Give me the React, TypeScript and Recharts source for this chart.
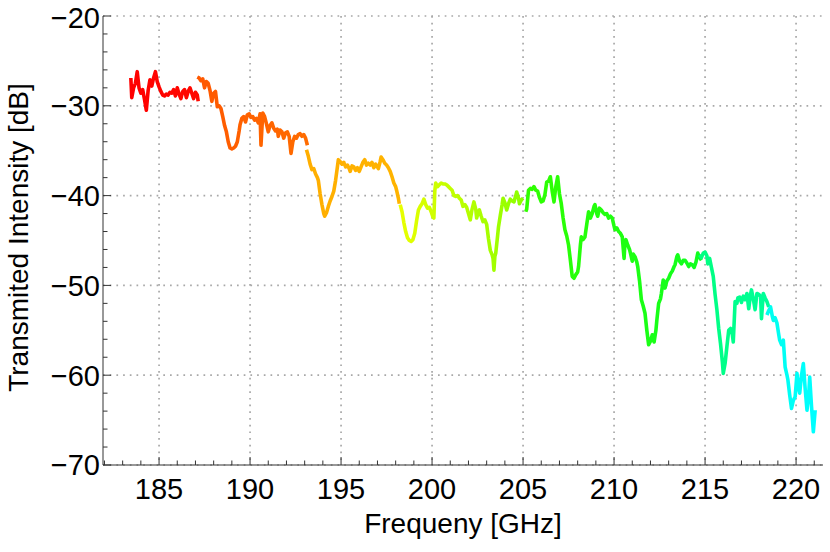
import React from 'react';
import { LineChart, Line, XAxis, YAxis, CartesianGrid } from 'recharts';

// ---- data: frequency [GHz] and transmitted intensity [dB], one pair of arrays per measured segment ----
const seg1Freq = [183.45, 183.5, 183.6, 183.7, 183.8, 183.9, 184.0, 184.1, 184.2, 184.3, 184.4, 184.5, 184.6, 184.7, 184.8, 184.9, 185.0, 185.1, 185.2, 185.3, 185.4, 185.5, 185.6, 185.7, 185.8, 185.9, 186.0, 186.1, 186.2, 186.3, 186.4, 186.5, 186.6, 186.7, 186.8, 186.9, 187.0, 187.1, 187.15];
const seg1Val = [-26.9, -29.1, -28.0, -27.5, -26.2, -28.0, -28.6, -28.2, -29.3, -30.5, -28.3, -27.1, -27.8, -26.9, -26.2, -27.3, -27.9, -28.4, -28.8, -28.9, -28.7, -28.8, -28.5, -28.6, -28.2, -28.9, -28.0, -28.7, -29.2, -28.4, -28.2, -29.1, -28.4, -28.0, -28.6, -29.2, -28.5, -28.8, -29.5];

const seg2Freq = [187.1, 187.2, 187.3, 187.4, 187.5, 187.6, 187.7, 187.8, 187.9, 188.0, 188.1, 188.2, 188.3, 188.4, 188.5, 188.6, 188.7, 188.8, 188.9, 189.0, 189.1, 189.2, 189.3, 189.4, 189.45, 189.55, 189.65, 189.75, 189.85, 189.95, 190.05, 190.15, 190.25, 190.35, 190.45, 190.55, 190.6, 190.7, 190.8, 190.9, 191.0, 191.1, 191.2, 191.3, 191.4, 191.5, 191.55, 191.65, 191.75, 191.85, 191.95, 192.05, 192.15, 192.25, 192.35, 192.45, 192.55, 192.65, 192.75, 192.85, 192.95, 193.05, 193.15];
const seg2Val = [-26.8, -26.9, -27.2, -27.0, -28.0, -27.3, -27.5, -28.3, -29.5, -28.6, -28.4, -30.1, -30.0, -30.3, -31.2, -32.2, -32.9, -34.0, -34.7, -34.8, -34.7, -34.5, -34.0, -32.8, -32.1, -31.4, -31.2, -31.8, -31.0, -30.9, -31.3, -31.2, -31.6, -31.4, -31.9, -30.9, -34.4, -30.8, -31.2, -32.0, -32.9, -32.2, -31.9, -32.5, -32.8, -32.6, -33.4, -32.7, -32.9, -33.6, -33.0, -32.9, -33.4, -35.3, -34.0, -33.4, -33.6, -33.2, -33.1, -33.4, -33.2, -33.6, -34.4];

const seg3Freq = [193.1, 193.2, 193.3, 193.4, 193.5, 193.6, 193.7, 193.75, 193.85, 193.95, 194.05, 194.1, 194.2, 194.3, 194.4, 194.5, 194.6, 194.7, 194.8, 194.85, 194.95, 195.05, 195.15, 195.25, 195.35, 195.45, 195.5, 195.6, 195.7, 195.8, 195.9, 196.0, 196.1, 196.2, 196.3, 196.4, 196.5, 196.6, 196.7, 196.8, 196.9, 197.05, 197.15, 197.2, 197.3, 197.4, 197.5, 197.6, 197.7, 197.8, 197.9, 198.0, 198.05, 198.15, 198.2];
const seg3Val = [-34.9, -35.6, -36.5, -37.1, -37.0, -37.6, -38.0, -38.3, -39.8, -41.0, -42.0, -42.3, -41.9, -41.2, -40.6, -40.1, -39.5, -38.3, -36.8, -36.0, -36.2, -36.5, -36.3, -36.8, -36.6, -37.0, -37.3, -36.7, -36.8, -37.2, -36.9, -37.3, -36.8, -36.3, -36.0, -36.6, -36.4, -36.6, -36.3, -36.9, -36.5, -37.0, -36.2, -35.7, -36.0, -36.4, -36.6, -36.9, -37.3, -37.9, -38.6, -39.0, -39.4, -40.3, -40.9];

const seg4Freq = [198.25, 198.35, 198.45, 198.55, 198.65, 198.75, 198.85, 198.95, 199.05, 199.15, 199.25, 199.35, 199.45, 199.55, 199.65, 199.75, 199.85, 199.95, 200.05, 200.1, 200.15, 200.2, 200.3, 200.4, 200.5, 200.6, 200.7, 200.8, 200.9, 201.0, 201.1, 201.2, 201.3, 201.4, 201.5, 201.6, 201.7, 201.8, 201.9, 202.0, 202.1, 202.2, 202.3, 202.4, 202.45, 202.55, 202.6, 202.7, 202.8, 202.9, 203.0, 203.1, 203.2, 203.3, 203.35, 203.4, 203.45, 203.5, 203.6, 203.65, 203.75, 203.85, 203.9, 204.0, 204.1, 204.2, 204.3, 204.4, 204.5, 204.6, 204.65, 204.75, 204.8, 204.9, 205.0];
const seg4Val = [-41.0, -41.8, -43.0, -44.0, -44.7, -45.0, -45.1, -44.9, -44.2, -42.8, -41.6, -41.2, -40.9, -40.4, -41.0, -41.4, -41.3, -41.8, -42.4, -42.5, -39.5, -38.6, -39.0, -38.8, -38.6, -38.7, -38.7, -38.8, -39.0, -39.2, -39.4, -40.0, -40.1, -40.0, -40.3, -40.5, -41.2, -41.0, -41.3, -42.0, -42.7, -41.5, -40.7, -41.5, -42.5, -41.8, -41.6, -42.3, -42.9, -42.7, -43.2, -44.8, -46.1, -46.6, -47.0, -48.3, -46.8, -46.4, -44.5, -43.5, -42.2, -41.0, -40.3, -40.8, -41.6, -40.9, -40.4, -40.6, -40.7, -40.0, -39.6, -40.3, -40.9, -40.5, -40.3];

const seg5Freq = [205.15, 205.2, 205.3, 205.4, 205.5, 205.6, 205.7, 205.8, 205.9, 206.0, 206.1, 206.2, 206.3, 206.4, 206.5, 206.6, 206.7, 206.8, 206.9, 207.0, 207.1, 207.2, 207.3, 207.4, 207.5, 207.6, 207.7, 207.8, 207.9, 208.0, 208.05, 208.15, 208.2, 208.3, 208.4, 208.5, 208.6, 208.7, 208.8, 208.9, 208.95, 209.05, 209.1, 209.2, 209.3, 209.4, 209.5, 209.6, 209.7, 209.8, 209.9, 210.0, 210.05, 210.15, 210.25, 210.35, 210.45, 210.55, 210.6, 210.65, 210.75, 210.85, 210.9, 211.0, 211.05, 211.15, 211.25, 211.3, 211.4, 211.5, 211.6, 211.7, 211.8, 211.9, 212.0, 212.1, 212.2, 212.3, 212.35, 212.45, 212.55, 212.6, 212.7, 212.8, 212.9, 213.0, 213.1, 213.2, 213.3, 213.35, 213.45, 213.5, 213.6, 213.7, 213.8, 213.9, 214.0, 214.1, 214.2, 214.3, 214.4, 214.5, 214.6, 214.7, 214.8];
const seg5Val = [-41.8, -41.5, -39.4, -39.2, -39.3, -39.0, -39.4, -39.5, -40.2, -40.7, -40.6, -39.9, -38.5, -38.4, -37.9, -39.5, -40.7, -39.0, -37.9, -39.8, -40.9, -42.5, -43.8, -44.5, -45.5, -47.2, -49.0, -49.2, -48.8, -48.5, -47.9, -45.5, -44.6, -44.9, -44.6, -43.2, -41.8, -42.5, -42.0, -41.2, -41.0, -42.0, -42.3, -41.4, -41.6, -41.9, -42.1, -42.0, -42.5, -42.3, -42.5, -43.4, -43.8, -43.6, -44.0, -44.2, -44.6, -47.0, -45.2, -44.9, -45.5, -46.0, -46.4, -47.3, -46.5, -46.8, -47.4, -47.9, -49.5, -51.6, -52.3, -53.1, -55.0, -56.6, -56.2, -55.5, -56.3, -55.0, -53.9, -52.0, -51.5, -50.9, -49.4, -50.3, -49.5, -49.2, -48.7, -48.4, -47.9, -47.7, -46.8, -46.6, -47.3, -47.6, -47.2, -47.2, -47.5, -47.9, -47.6, -47.7, -48.0, -47.4, -46.4, -46.9, -47.2];

const seg6Freq = [214.7, 214.8, 214.9, 215.0, 215.1, 215.15, 215.25, 215.35, 215.45, 215.55, 215.65, 215.75, 215.85, 215.95, 216.0, 216.1, 216.2, 216.3, 216.4, 216.5, 216.55, 216.65, 216.75, 216.8, 216.9, 217.0, 217.1, 217.2, 217.3, 217.4, 217.5, 217.55, 217.65, 217.75, 217.85, 217.95, 218.05, 218.1, 218.2, 218.3, 218.4, 218.5];
const seg6Val = [-46.6, -46.9, -46.4, -46.3, -46.7, -47.6, -47.0, -48.0, -49.0, -51.0, -52.7, -54.8, -56.5, -58.5, -59.8, -58.7, -56.8, -55.0, -54.8, -55.5, -56.3, -51.8, -52.0, -51.4, -51.3, -51.9, -51.2, -51.6, -50.9, -52.6, -51.0, -50.5, -51.5, -52.7, -50.9, -51.0, -51.2, -53.7, -50.9, -51.4, -51.8, -52.4];

const seg7Freq = [218.4, 218.5, 218.6, 218.7, 218.75, 218.85, 218.95, 219.05, 219.1, 219.2, 219.3, 219.4, 219.5, 219.55, 219.65, 219.75, 219.85, 219.95, 220.05, 220.15, 220.2, 220.3, 220.4, 220.5, 220.6, 220.7, 220.75, 220.85, 220.95, 221.05];
const seg7Val = [-53.3, -52.8, -52.4, -53.5, -53.9, -53.6, -54.2, -55.5, -56.1, -56.6, -56.1, -59.1, -60.0, -60.5, -62.2, -63.7, -62.8, -62.4, -59.8, -61.5, -62.0, -60.0, -58.7, -61.5, -63.9, -62.0, -60.2, -63.5, -66.3, -63.9];

// ---- axes ----
const xMajorTicks = [185, 190, 195, 200, 205, 210, 215, 220];
const yMajorTicks = [-70, -60, -50, -40, -30, -20];
const xAllTicks = [182, 183, 184, 185, 186, 187, 188, 189, 190, 191, 192, 193, 194, 195, 196, 197, 198, 199, 200, 201, 202, 203, 204, 205, 206, 207, 208, 209, 210, 211, 212, 213, 214, 215, 216, 217, 218, 219, 220, 221];
const yAllTicks = [-70, -68, -66, -64, -62, -60, -58, -56, -54, -52, -50, -48, -46, -44, -42, -40, -38, -36, -34, -32, -30, -28, -26, -24, -22, -20];
const xDomain = [181.92, 221.48];
const yDomain = [-70, -20];

// ---- styling ----
const segmentColors: [string, string][] = [
  ['#ff0000', '#ff0800'],
  ['#ff5800', '#ff6c00'],
  ['#ffae00', '#ffb400'],
  ['#e8ff00', '#8cff00'],
  ['#30ff00', '#10ff20'],
  ['#00ff80', '#00ff99'],
  ['#00ffee', '#00ffff'],
];

const segmentFreqs = [seg1Freq, seg2Freq, seg3Freq, seg4Freq, seg5Freq, seg6Freq, seg7Freq];
const segmentVals = [seg1Val, seg2Val, seg3Val, seg4Val, seg5Val, seg6Val, seg7Val];

const FONT = '"Liberation Sans", Arial, Helvetica, sans-serif';
const FRAME = '#333333';
const TICK_FS = 29;
const LABEL_FS = 28;

const fmt = (v: number) => String(v).replace('-', '\u2212');

const BottomTick = (p: any) => {
  const { x, y, payload } = p;
  const major = payload.value % 5 === 0;
  return (
    <g>
      <line x1={x} x2={x} y1={y} y2={y - (major ? 8 : 4.5)} stroke={FRAME} strokeWidth={1} />
      {major && (
        <text x={x} y={y + 34} textAnchor="middle" fontSize={TICK_FS} fontFamily={FONT} fill="#000">
          {payload.value}
        </text>
      )}
    </g>
  );
};

const TopTick = (p: any) => {
  const { x, y, payload } = p;
  const major = payload.value % 5 === 0;
  return <line x1={x} x2={x} y1={y} y2={y + (major ? 8 : 4.5)} stroke={FRAME} strokeWidth={1} />;
};

const LeftTick = (p: any) => {
  const { x, y, payload } = p;
  const major = payload.value % 10 === 0;
  const dy = payload.value === -20 ? 12 : 10.3;
  return (
    <g>
      <line x1={x} x2={x + (major ? 8 : 4.5)} y1={y} y2={y} stroke={FRAME} strokeWidth={1} />
      {major && (
        <text x={x - 3} y={y + dy} textAnchor="end" fontSize={TICK_FS} fontFamily={FONT} fill="#000">
          {fmt(payload.value)}
        </text>
      )}
    </g>
  );
};

const RightTick = (p: any) => {
  const { x, y, payload } = p;
  const major = payload.value % 10 === 0;
  return <line x1={x} x2={x - (major ? 8 : 4.5)} y1={y} y2={y} stroke={FRAME} strokeWidth={1} />;
};

export default function App() {
  const series = segmentFreqs.map((fs, i) => fs.map((f, j) => ({ f, v: segmentVals[i][j] })));
  return (
    <div style={{ position: 'absolute', left: 0, top: 0, width: 830, height: 552 }}>
      <LineChart width={830} height={552} margin={{ top: 16, right: 7, bottom: 0, left: 0 }}>
        <defs>
          {segmentColors.map((c, i) => (
            <linearGradient key={i} id={`seg${i}`} x1="0" y1="0" x2="1" y2="0">
              <stop offset="0%" stopColor={c[0]} />
              <stop offset="100%" stopColor={c[1]} />
            </linearGradient>
          ))}
        </defs>
        <CartesianGrid
          xAxisId="b"
          yAxisId="l"
          verticalValues={xMajorTicks}
          horizontalValues={yMajorTicks}
          stroke="#a8a8a8"
          strokeWidth={1.7}
          strokeDasharray="1.7 5"
        />
        <XAxis
          xAxisId="b"
          dataKey="f"
          type="number"
          domain={xDomain}
          ticks={xAllTicks}
          interval={0}
          allowDataOverflow
          height={87}
          tickSize={0}
          tickMargin={0}
          tickLine={false}
          axisLine={{ stroke: FRAME, strokeWidth: 1 }}
          tick={<BottomTick />}
          label={{
            content: (lp: any) => {
              const vb = lp.viewBox;
              return (
                <text x={vb.x + vb.width / 2} y={vb.y + 68} textAnchor="middle" fontSize={LABEL_FS} fontFamily={FONT} fill="#000">
                  Frequeny [GHz]
                </text>
              );
            },
          }}
        />
        <XAxis
          xAxisId="t"
          orientation="top"
          dataKey="f"
          type="number"
          domain={xDomain}
          ticks={xAllTicks}
          interval={0}
          allowDataOverflow
          height={0}
          tickSize={0}
          tickMargin={0}
          tickLine={false}
          axisLine={{ stroke: FRAME, strokeWidth: 1 }}
          tick={<TopTick />}
        />
        <YAxis
          yAxisId="l"
          type="number"
          domain={yDomain}
          ticks={yAllTicks}
          interval={0}
          allowDataOverflow
          width={103}
          tickSize={0}
          tickMargin={0}
          tickLine={false}
          axisLine={{ stroke: FRAME, strokeWidth: 1 }}
          tick={<LeftTick />}
          label={{
            content: (lp: any) => {
              const vb = lp.viewBox;
              const cy = vb.y + vb.height / 2 - 3;
              return (
                <text
                  transform={`translate(28, ${cy}) rotate(-90)`}
                  textAnchor="middle"
                  fontSize={LABEL_FS}
                  fontFamily={FONT}
                  fill="#000"
                >
                  Transmited Intensity [dB]
                </text>
              );
            },
          }}
        />
        <YAxis
          yAxisId="r"
          orientation="right"
          type="number"
          domain={yDomain}
          ticks={yAllTicks}
          interval={0}
          allowDataOverflow
          width={0}
          tickSize={0}
          tickMargin={0}
          tickLine={false}
          axisLine={{ stroke: FRAME, strokeWidth: 1 }}
          tick={<RightTick />}
        />
        {series.map((d, i) => (
          <Line
            key={i}
            xAxisId="b"
            yAxisId="l"
            data={d}
            dataKey="v"
            type="linear"
            dot={false}
            activeDot={false}
            stroke={`url(#seg${i})`}
            strokeWidth={3.6}
            strokeLinejoin="round"
            isAnimationActive={false}
          />
        ))}
        {series.slice(0, 1).map((d, i) => (
          <Line
            key={`hidden${i}`}
            xAxisId="t"
            yAxisId="r"
            data={d}
            dataKey="v"
            dot={false}
            activeDot={false}
            stroke="none"
            isAnimationActive={false}
          />
        ))}
      </LineChart>
    </div>
  );
}
